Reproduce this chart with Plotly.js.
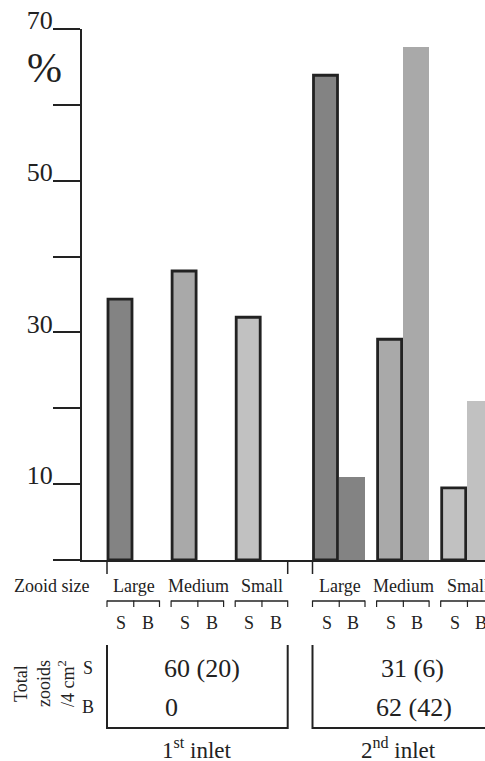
<!DOCTYPE html>
<html>
<head>
<meta charset="utf-8">
<script src="https://cdn.plot.ly/plotly-3.0.1.min.js"></script>
<style>html,body{margin:0;padding:0;background:#fff;}#chart{width:485px;height:761px;}</style>
</head>
<body>
<div id="chart"></div>
<script>
// ---- data ----
const inlets = ['1<sup>st</sup> inlet', '2<sup>nd</sup> inlet'];
const sizes = ['Large', 'Medium', 'Small'];
const inlet1S = [34.4, 38.1, 32.0];
const inlet1B = [0, 0, 0];
const inlet2S = [63.9, 29.1, 9.5];
const inlet2B = [10.9, 67.6, 20.9];
const totalS = ['60 (20)', '31 (6)'];
const totalB = ['0', '62 (42)'];
const yTickVals = [0, 10, 20, 30, 40, 50, 60, 70];
const yTickText = ['', '10', '', '30', '', '50', '', '70'];

// ---- layout constants ----
const W = 485, H = 761, ML = 82, MT = 29, MB = 201;
const plotW = W - ML, plotH = H - MT - MB;
const baseY = H - MB;
const inletStart = [120, 325.5];
const groupStep = 64.1;
const pairStep = 26.5;
const sizeColors = ['#838383', '#a9a9a9', '#c1c1c1'];
const ink = '#222222';
const FONT = 'Liberation Serif, Times New Roman, serif';

const px = v => (v - ML) / plotW;          // page x -> paper x
const py = v => (baseY - v) / plotH;        // page y -> paper y

const sVals = [inlet1S, inlet2S];
const bVals = [inlet1B, inlet2B];
const sx = [], sy = [], bx = [], by = [], cols = [];
inlets.forEach((_, i) => sizes.forEach((_, g) => {
  const c = inletStart[i] + g * groupStep;
  sx.push(c); sy.push(sVals[i][g]);
  bx.push(c + pairStep); by.push(bVals[i][g]);
  cols.push(sizeColors[g]);
}));

const traces = [
  {type: 'bar', x: sx, y: sy, width: 24, marker: {color: cols, line: {color: ink, width: 2.8}}, hoverinfo: 'none', showlegend: false},
  {type: 'bar', x: bx, y: by, width: 25.5, marker: {color: cols, line: {width: 0}}, hoverinfo: 'none', showlegend: false}
];

const shapes = [];
const annotations = [];
const line = (x0, y0, x1, y1, w) => shapes.push({type: 'line', xref: 'paper', yref: 'paper',
  x0: px(x0), y0: py(y0), x1: px(x1), y1: py(y1), line: {color: ink, width: w}});
const text = (t, x, y, size, extra) => annotations.push(Object.assign({text: t, xref: 'paper', yref: 'paper',
  x: px(x), y: py(y), xanchor: 'center', yanchor: 'middle', showarrow: false,
  font: {family: FONT, size: size, color: ink}}, extra || {}));

// group / inlet brackets & labels
inlets.forEach((lab, i) => {
  const left = inletStart[i] - 13;
  const right = inletStart[i] + 2 * groupStep + pairStep + 13;
  line(left, baseY + 1, left, 574, 1.5);
  line(right, baseY + 1, right, 574, 1.5);
  sizes.forEach((s, g) => {
    const c = inletStart[i] + g * groupStep;
    const l = c - 13, r = c + pairStep + 13, m = c + pairStep / 2;
    line(l, 601, r, 601, 1.5);
    line(l, 600.5, l, 607, 1.2);
    line(m + 0.5, 600.5, m + 0.5, 607, 1.2);
    line(r, 600.5, r, 607, 1.2);
    text(s, (c + c + pairStep) / 2 + 1, 586, 18);
    text('S', c + 1, 623, 18);
    text('B', c + pairStep + 1, 623, 18);
  });
  // U-shaped box
  line(left, 645, left, 729, 2);
  line(left, 728, right, 728, 2);
  line(right, 645, right, 729, 2);
  text(lab, [196, 398][i], 748, 23);
});
text(totalS[0], 202, 668, 26);
text(totalB[0], 163, 707, 26, {xanchor: 'left'});
text(totalS[1], 412, 668, 26);
text(totalB[1], 414, 707, 26);

text('Zooid size', 51.5, 586, 18);
text('S', 88, 668, 18);
text('B', 88, 707, 18);
text('Total<br>zooids<br>/4 cm<sup>2</sup>', 44, 684, 18, {textangle: -90});
text('%', 44, 68, 42);

const layout = {
  width: W, height: H,
  margin: {l: ML, r: 0, t: MT, b: MB, pad: 0},
  paper_bgcolor: '#fff', plot_bgcolor: '#fff',
  bargap: 0,
  xaxis: {range: [ML, W], showline: true, linecolor: ink, linewidth: 2, showticklabels: false,
          ticks: '', showgrid: false, zeroline: false, fixedrange: true},
  yaxis: {range: [0, 70], showline: true, linecolor: ink, linewidth: 2, showgrid: false, zeroline: false,
          ticks: 'outside', ticklen: 27, tickwidth: 2, tickcolor: ink,
          tickvals: yTickVals, ticktext: yTickText, ticklabelshift: -9, ticklabelstandoff: -5,
          tickfont: {family: FONT, size: 26, color: ink}, fixedrange: true},
  shapes: shapes,
  annotations: annotations
};

Plotly.newPlot('chart', traces, layout, {staticPlot: true, displayModeBar: false});
</script>
</body>
</html>
